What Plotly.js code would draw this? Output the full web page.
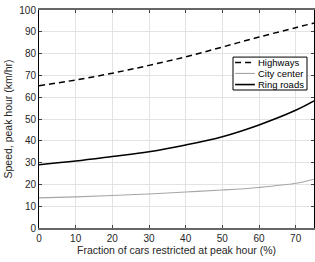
<!DOCTYPE html>
<html>
<head>
<meta charset="utf-8">
<script src="https://cdn.plot.ly/plotly-3.0.1.min.js"></script>
<style>html,body{margin:0;padding:0;background:#fff;}#chart{width:315px;height:262px;}</style>
</head>
<body>
<div id="chart"></div>
<script>
const fraction = [0, 10, 20, 30, 40, 50, 60, 70, 75];
const highways = [65.3, 67.9, 71.0, 74.6, 78.5, 83.0, 87.6, 91.9, 94.0];
const cityCenter = [13.8, 14.3, 14.9, 15.6, 16.5, 17.4, 18.6, 20.5, 22.4];
const ringRoads = [29.0, 30.7, 32.8, 35.0, 38.1, 41.9, 47.3, 54.0, 58.3];
const seriesNames = ['Highways', 'City center', 'Ring roads'];
const xTicks = [0, 10, 20, 30, 40, 50, 60, 70];
const yTicks = [0, 10, 20, 30, 40, 50, 60, 70, 80, 90, 100];

const lineStyles = [
  {color: '#000', width: 1.5, dash: '6px,4px'},
  {color: '#a6a6a6', width: 1.1, dash: 'solid'},
  {color: '#000', width: 1.6, dash: 'solid'}
];
const seriesData = [highways, cityCenter, ringRoads];

const traces = seriesData.map((ys, i) => ({
  x: fraction, y: ys, name: seriesNames[i], mode: 'lines',
  line: Object.assign({shape: 'spline'}, lineStyles[i])
}));

// custom compact legend (MATLAB-like)
const lx0 = 0.7055, lx1 = 0.9745, ly0 = 0.633, ly1 = 0.784;
const rowY = [0.759, 0.709, 0.658];
const shapes = [{type: 'rect', xref: 'paper', yref: 'paper', x0: lx0, x1: lx1, y0: ly0, y1: ly1,
  line: {color: '#000', width: 1}, fillcolor: '#fff', layer: 'above'}];
const annotations = [];
seriesNames.forEach((nm, i) => {
  shapes.push({type: 'line', xref: 'paper', yref: 'paper', x0: 0.713, x1: 0.785, y0: rowY[i], y1: rowY[i],
    line: {color: lineStyles[i].color, width: lineStyles[i].width, dash: lineStyles[i].dash}, layer: 'above'});
  annotations.push({xref: 'paper', yref: 'paper', x: 0.79, y: rowY[i], xanchor: 'left', yanchor: 'middle',
    text: nm, showarrow: false, font: {size: 9.5, color: '#000'}});
});

const layout = {
  width: 315, height: 262,
  margin: {l: 39, r: 1, t: 10, b: 34},
  paper_bgcolor: '#fff', plot_bgcolor: '#fff',
  font: {family: 'Liberation Sans, Arial, sans-serif', size: 10, color: '#262626'},
  showlegend: false,
  shapes: shapes,
  annotations: annotations,
  xaxis: {range: [0, 75], tickvals: xTicks, ticktext: xTicks.map(String),
    showgrid: true, gridcolor: '#e3e3e3', gridwidth: 1,
    ticks: 'inside', ticklen: 3, tickcolor: '#444', tickwidth: 1,
    showline: true, linecolor: '#666', linewidth: 2, mirror: 'allticks',
    zeroline: false, tickfont: {size: 10, color: '#262626'},
    title: {text: 'Fraction of cars restricted at peak hour (%)', font: {size: 10.5, color: '#262626'}, standoff: 3}},
  yaxis: {range: [0, 100], tickvals: yTicks, ticktext: yTicks.map(String),
    showgrid: true, gridcolor: '#e3e3e3', gridwidth: 1,
    ticks: 'inside', ticklen: 3, tickcolor: '#444', tickwidth: 1,
    showline: true, linecolor: '#000', linewidth: 1, mirror: 'allticks',
    zeroline: false, tickfont: {size: 10, color: '#262626'},
    title: {text: 'Speed, peak hour (km/hr)', font: {size: 10.5, color: '#262626'}, standoff: 4}}
};

Plotly.newPlot('chart', traces, layout, {displayModeBar: false, staticPlot: true});
</script>
</body>
</html>
